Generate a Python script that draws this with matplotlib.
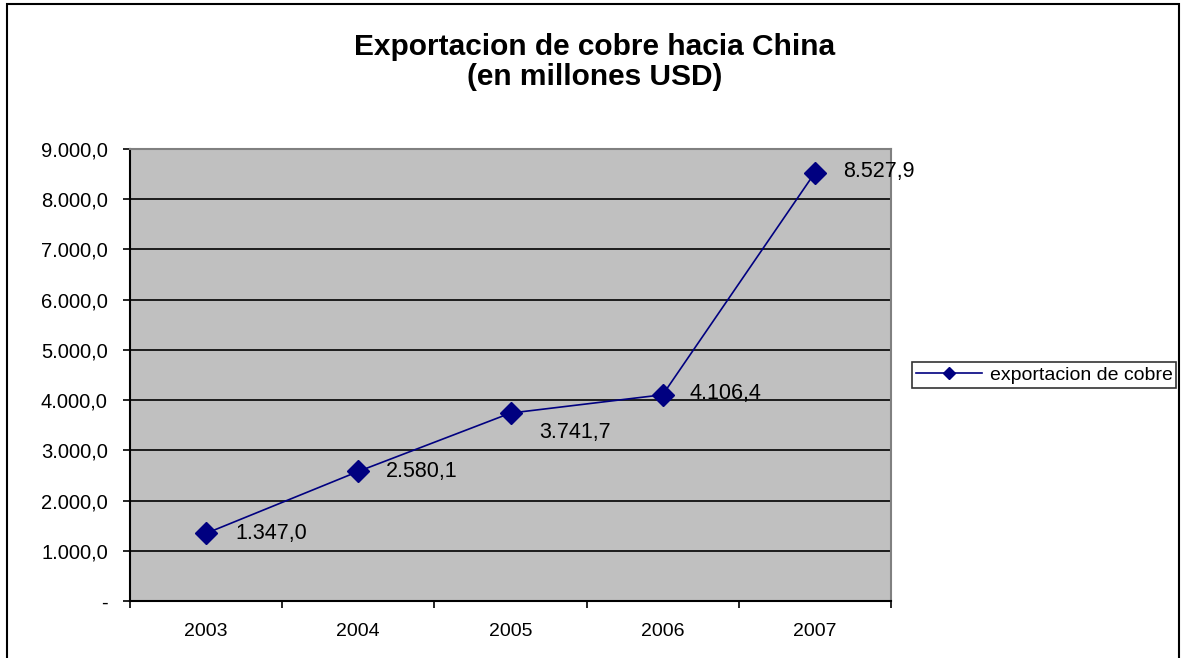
import matplotlib.pyplot as plt
from matplotlib.patches import Rectangle
from matplotlib.ticker import FuncFormatter

# datos
anios = ['2003', '2004', '2005', '2006', '2007']
exportacion = [1347.0, 2580.1, 3741.7, 4106.4, 8527.9]
etiquetas = ['1.347,0', '2.580,1', '3.741,7', '4.106,4', '8.527,9']

plt.rcParams['font.family'] = ['Liberation Sans', 'DejaVu Sans']

fig = plt.figure(figsize=(11.84, 6.58), dpi=100)
ax = fig.add_axes([130 / 1184, 1 - 601 / 658, 761 / 1184, 452 / 658])

# borde del grafico
fig.patches.append(Rectangle((7 / 1184, -0.01), 1172 / 1184, 1 - 4 / 658 + 0.01,
                             transform=fig.transFigure, fill=False,
                             edgecolor='black', linewidth=1.5))

ax.set_facecolor('#c0c0c0')
x = list(range(len(anios)))
ax.plot(x, exportacion, color='#000080', linewidth=1.2, marker='D',
        markersize=11, markerfacecolor='#000080', markeredgecolor='#000080',
        label='exportacion de cobre', zorder=3)

# posicion de las etiquetas (como en Excel, a la derecha)
offsets = [(21, 0), (20, 0), (21, -14), (19, 1), (20, 1)]
for xi, yi, lab, off in zip(x, exportacion, etiquetas, offsets):
    ax.annotate(lab, (xi, yi), xytext=off, textcoords='offset points',
                fontsize=15.5, ha='left', va='center', zorder=4)

ax.set_xlim(-0.5, 4.5)
ax.set_ylim(0, 9000)
ax.set_yticks(range(0, 9001, 1000))


def fmt(v, pos):
    if v == 0:
        return '-'
    return f'{v:,.1f}'.replace(',', 'X').replace('.', ',').replace('X', '.')


ax.yaxis.set_major_formatter(FuncFormatter(fmt))
ax.set_xticks(x)
ax.set_xticklabels(anios)
ax.set_xticks([i - 0.5 for i in range(len(anios) + 1)], minor=True)
ax.tick_params(axis='x', which='major', length=0, pad=16, labelsize=14)
ax.tick_params(axis='x', which='minor', length=5, direction='out', width=1.2)
ax.tick_params(axis='y', length=5, direction='out', width=1.2, labelsize=14.5, pad=11)

ax.grid(axis='y', color='black', linewidth=1.2)
ax.set_axisbelow(True)
for s in ['top', 'right']:
    ax.spines[s].set_color('#808080')
    ax.spines[s].set_linewidth(1.5)
for s in ['left', 'bottom']:
    ax.spines[s].set_color('black')
    ax.spines[s].set_linewidth(1.5)

fig.text(595 / 1184, 1 - 62 / 658, 'Exportacion de cobre hacia China\n(en millones USD)',
         ha='center', va='center', fontsize=21.5, fontweight='bold', linespacing=1.1)

leg = fig.legend(loc='center', bbox_to_anchor=(1044 / 1184, 1 - 375 / 658),
                 fontsize=14, frameon=True, fancybox=False, handlelength=3.4,
                 borderpad=0.2, handletextpad=0.4, markerscale=0.6)
leg.get_frame().set_edgecolor('black')
leg.get_frame().set_linewidth(1.2)

fig.savefig('out.png', dpi=100)
